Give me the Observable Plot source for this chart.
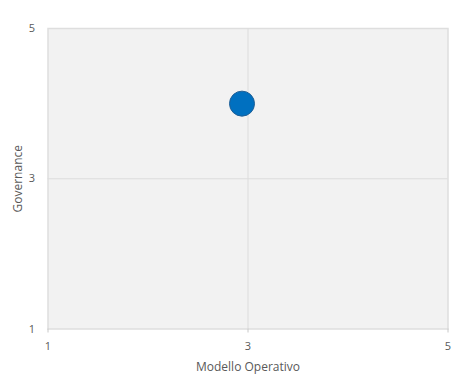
<!DOCTYPE html>
<html>
<head>
<meta charset="utf-8">
<script src="https://cdn.jsdelivr.net/npm/d3@7"></script>
<script src="https://cdn.jsdelivr.net/npm/@observablehq/plot@0.6"></script>
<style>
  html, body { margin: 0; padding: 0; background: #fff; }
  #chart svg { display: block; }
</style>
</head>
<body>
<div id="chart"></div>
<script>
const xTicks = [1, 3, 5];
const yTicks = [1, 3, 5];
const gridX = [3];
const gridY = [3];
const points = [{ x: 2.94, y: 4.0, label: "Valutazione" }];
const xLabel = "Modello Operativo";
const yLabel = "Governance";

const textColor = "#595959";

const chart = Plot.plot({
  width: 471,
  height: 382,
  marginLeft: 47.5,
  marginRight: 23.5,
  marginTop: 28,
  marginBottom: 53.5,
  style: { fontFamily: "'Open Sans', 'Noto Sans', sans-serif", fontSize: "11px", color: textColor, background: "#fff" },
  x: { domain: [1, 5], ticks: xTicks, label: null },
  y: { domain: [1, 5], ticks: yTicks, label: null },
  marks: [
    Plot.frame({ fill: "#f2f2f2", stroke: "#dedede", strokeWidth: 1.5 }),
    Plot.ruleX(gridX, { stroke: "#dcdcdc", strokeWidth: 1 }),
    Plot.ruleY(gridY, { stroke: "#dcdcdc", strokeWidth: 1 }),
    Plot.axisX({ ticks: xTicks, tickFormat: "d", tickSize: 4, tickPadding: 9, stroke: "#c8c8c8", fill: textColor, fontSize: 11, label: null }),
    Plot.axisY({ ticks: yTicks, tickFormat: "d", tickSize: 0, tickPadding: 13, fill: textColor, fontSize: 11, label: null }),
    Plot.text([xLabel], { frameAnchor: "bottom", dy: 42, fill: textColor, fontSize: 12 }),
    Plot.text([yLabel], { frameAnchor: "left", textAnchor: "middle", dx: -30, rotate: -90, fill: textColor, fontSize: 12 }),
    Plot.dot(points, { x: "x", y: "y", r: 12.5, fill: "#0070c0", stroke: "#1f5f96", strokeWidth: 1 })
  ]
});
document.getElementById("chart").appendChild(chart);
</script>
</body>
</html>
